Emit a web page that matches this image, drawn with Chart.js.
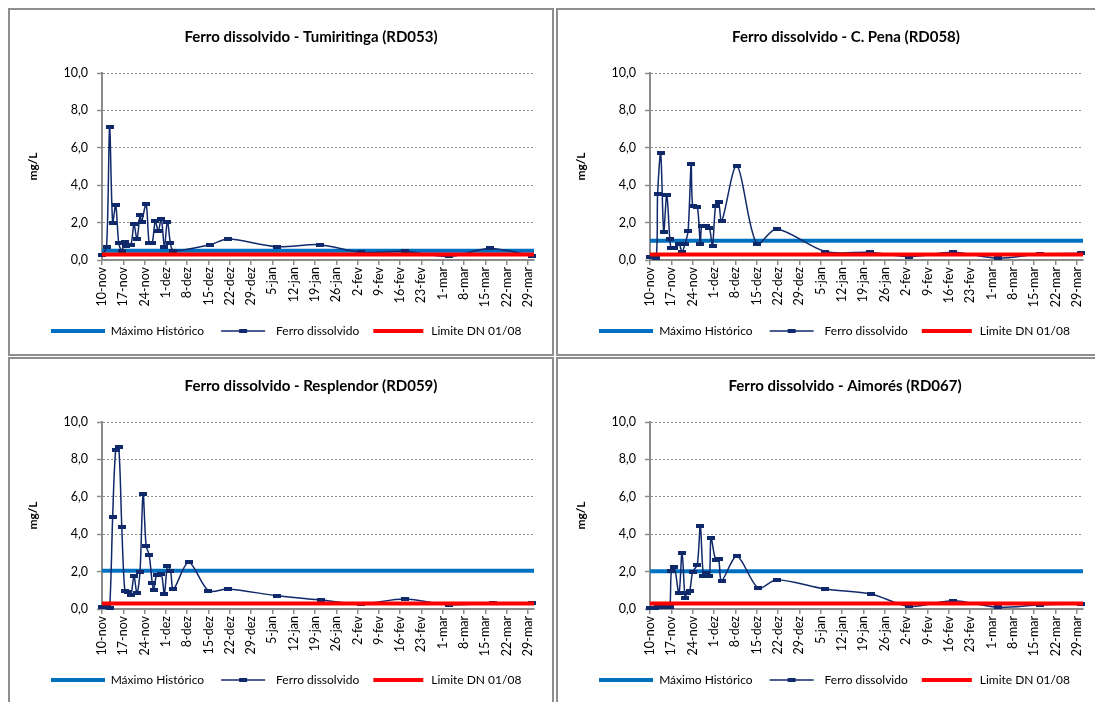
<!DOCTYPE html>
<html><head><meta charset="utf-8">
<script src="https://cdn.jsdelivr.net/npm/chart.js@4.4.0/dist/chart.umd.min.js"></script>
<style>
html,body{margin:0;padding:0;background:#fff;width:1095px;height:702px;overflow:hidden;position:relative}
.panel{position:absolute;border:2px solid #8e8e8e;box-sizing:border-box;background:#fff}
canvas{position:absolute}
</style></head><body>
<div class="panel" style="left:8px;top:8px;width:546px;height:348px"></div>
<div class="panel" style="left:556px;top:8px;width:560px;height:348px"></div>
<div class="panel" style="left:8px;top:357px;width:546px;height:360px"></div>
<div class="panel" style="left:556px;top:357px;width:560px;height:360px"></div>
<canvas id="c1" width="541" height="343" style="left:10px;top:10px"></canvas>
<canvas id="c2" width="537" height="343" style="left:558px;top:10px"></canvas>
<canvas id="c3" width="541" height="343" style="left:10px;top:359px"></canvas>
<canvas id="c4" width="537" height="343" style="left:558px;top:359px"></canvas>
<script>
// ---------- data ----------
const tickLabels = ['10-nov','17-nov','24-nov','1-dez','8-dez','15-dez','22-dez','29-dez','5-jan','12-jan','19-jan','26-jan','2-fev','9-fev','16-fev','23-fev','1-mar','8-mar','15-mar','22-mar','29-mar'];
const tickDays = [0,7,14,21,28,35,42,49,56,63,70,77,84,91,98,105,112,119,126,133,140]; // days after 10-nov
const axisDays = [0, 142];
const seriesNames = ['Máximo Histórico','Ferro dissolvido','Limite DN 01/08'];
const stationTitles = ['Ferro dissolvido - Tumiritinga (RD053)','Ferro dissolvido - C. Pena (RD058)','Ferro dissolvido - Resplendor (RD059)','Ferro dissolvido - Aimorés (RD067)'];
const maximoHistorico = [0.5, 1.03, 2.05, 2.02];
const limiteDN = [0.3, 0.3, 0.3, 0.3];

const tumiritingaDays = [0,1.5,2.5,3.5,4.5,5.5,6.5,7.5,8,9.5,10.5,11.5,12.5,13,14.5,15.5,16.5,17.5,18.5,19.5,20.5,21.5,22.5,23.5,35.5,41.5,57.5,71.5,85,99.5,114,127.5,141.5];
const tumiritingaFe   = [0.25,0.7,7.1,2.0,2.95,0.9,0.5,0.98,0.77,0.82,1.9,1.12,2.38,2.05,3.0,0.9,0.9,2.07,1.57,2.2,0.71,2.05,0.9,0.5,0.82,1.12,0.71,0.82,0.41,0.46,0.19,0.62,0.23];

const penaDays = [0,2,2.5,3.5,4.5,5.5,6.5,7,8,9.5,10.5,11.5,12.5,13.5,14,15.5,16.5,17,18.5,19.5,20.5,21.5,22.5,23.5,28.5,35,41.5,57.5,72,85,99.5,114,128,141.5];
const penaFe   = [0.14,0.1,3.54,5.71,1.52,3.5,1.12,0.62,0.64,0.86,0.45,0.86,1.55,5.14,2.91,2.86,0.86,1.84,1.8,1.71,0.77,2.91,3.09,2.07,5.05,0.86,1.66,0.45,0.41,0.18,0.41,0.1,0.32,0.35];

const resplendorDays = [0,1.5,2.5,3.5,4.5,5.5,6.5,7.5,8.5,9.5,10.5,11.5,12.5,13.5,14.5,15.5,16.5,17,18,19.5,20.5,21.5,22.5,23.5,28.5,35,41.5,57.5,72,85,99.5,114,128.5,141.5];
const resplendorFe   = [0.12,0.09,0.05,4.91,8.52,8.66,4.41,0.98,0.93,0.75,1.75,0.84,2.0,6.16,3.39,2.89,1.41,1.04,1.84,1.87,0.8,2.3,2.05,1.07,2.5,0.98,1.07,0.71,0.48,0.27,0.53,0.23,0.3,0.3];

const aimoresDays = [0,1.5,2.5,4,5.5,6.5,7,8,9.5,10.5,11.5,12,13,14,15.5,16.5,17.5,18.5,19.5,20,21.5,22.5,23.5,28.5,35.5,41.5,57.5,72.5,85,99.5,114,128,141.5];
const aimoresFe   = [0.05,0.05,0.09,0.09,0.09,0.09,2.02,2.23,0.84,3.0,0.57,0.84,0.95,2.0,2.36,4.46,1.79,1.91,1.75,3.8,2.63,2.68,1.52,2.82,1.12,1.57,1.07,0.8,0.14,0.44,0.09,0.23,0.27];

// ---------- styles ----------
const BLUE = '#0070C0', RED = '#FF0000', NAVY = '#10296A', GRID = '#8c8c8c';
const FONT = 'Lato';
Chart.defaults.font.family = FONT;
Chart.defaults.font.size = 12;
Chart.defaults.color = '#000';

function makeMarker() {
  const c = document.createElement('canvas'); c.width = 8; c.height = 4;
  const g = c.getContext('2d'); g.fillStyle = NAVY; g.fillRect(0, 0, 8, 4); return c;
}
const markerImg = makeMarker();
function lineSymbol(color, lw, len, marker) {
  const c = document.createElement('canvas'); c.width = 54; c.height = 8;
  const g = c.getContext('2d'); g.strokeStyle = color; g.lineWidth = lw;
  g.beginPath(); g.moveTo((54 - len) / 2, 4); g.lineTo((54 + len) / 2, 4); g.stroke();
  if (marker) g.drawImage(markerImg, 23, 2);
  return c;
}
const legendSymbols = [lineSymbol(BLUE, 4, 54, false), lineSymbol(NAVY, 1.5, 44, true), lineSymbol(RED, 4, 50, false)];

const panelTitle = {
  id: 'panelTitle',
  afterDraw(chart, args, opts) {
    const ctx = chart.ctx; ctx.save();
    ctx.font = 'bold 15px ' + FONT; ctx.fillStyle = '#000';
    ctx.textAlign = 'center'; ctx.textBaseline = 'middle';
    ctx.fillText(opts.text, opts.x, opts.y); ctx.restore();
  }
};

const panels = [
  {id: 'c1', t: 0, titleX: 301, days: tumiritingaDays, fe: tumiritingaFe, padR: 17},
  {id: 'c2', t: 1, titleX: 288, days: penaDays, fe: penaFe, padR: 12},
  {id: 'c3', t: 2, titleX: 301, days: resplendorDays, fe: resplendorFe, padR: 17},
  {id: 'c4', t: 3, titleX: 287, days: aimoresDays, fe: aimoresFe, padR: 12}
];

panels.forEach(p => {
  const hline = v => axisDays.map(d => ({x: d, y: v}));
  new Chart(document.getElementById(p.id), {
    type: 'line',
    data: {
      datasets: [
        {label: seriesNames[0], data: hline(maximoHistorico[p.t]), borderColor: BLUE, backgroundColor: BLUE, borderWidth: 4, pointRadius: 0, pointStyle: legendSymbols[0], order: 3},
        {label: seriesNames[1], data: p.days.map((d, i) => ({x: d, y: p.fe[i]})), borderColor: NAVY, backgroundColor: NAVY, borderWidth: 1.5, pointRadius: 3, pointStyle: markerImg, tension: 0.3, clip: false, order: 2},
        {label: seriesNames[2], data: hline(limiteDN[p.t]), borderColor: RED, backgroundColor: RED, borderWidth: 4, pointRadius: 0, pointStyle: legendSymbols[2], order: 1}
      ]
    },
    options: {
      responsive: false, animation: false, events: [],
      layout: {padding: {left: 28, right: p.padR, top: 63, bottom: 6}},
      scales: {
        x: {
          type: 'linear', min: axisDays[0], max: axisDays[1],
          afterBuildTicks: s => { s.ticks = tickDays.map(v => ({value: v})); },
          afterFit: s => { s.height = 53; },
          ticks: {autoSkip: false, minRotation: 90, maxRotation: 90, padding: 2, font: {size: 12.5},
                  callback: (v, i) => tickLabels[i]},
          grid: {drawOnChartArea: false, drawTicks: true, tickLength: 5, color: GRID, lineWidth: 1.5},
          border: {color: GRID, width: 2}
        },
        y: {
          min: 0, max: 10,
          afterFit: s => { s.width = 64; },
          ticks: {stepSize: 2, padding: 9, font: {size: 12.5}, callback: v => v.toFixed(1).replace('.', ',')},
          grid: {color: c => c.tick && c.tick.value === 0 ? 'rgba(0,0,0,0)' : GRID, tickColor: GRID, lineWidth: 1, tickLength: 5, tickWidth: 1.5},
          border: {color: GRID, width: 2, dash: [2, 2]},
          title: {display: true, text: 'mg/L', font: {size: 12, weight: 'bold'}, padding: {top: -12, bottom: 0}}
        }
      },
      plugins: {
        panelTitle: {text: stationTitles[p.t], x: p.titleX, y: 27},
        title: {display: false},
        tooltip: {enabled: false},
        legend: {
          position: 'bottom',
          labels: {
            usePointStyle: true, pointStyleWidth: 54, padding: 12, font: {size: 12},
            generateLabels: chart => {
              const items = Chart.defaults.plugins.legend.labels.generateLabels(chart);
              items.forEach(it => { it.pointStyle = legendSymbols[it.datasetIndex]; });
              return items;
            },
            sort: (a, b) => a.datasetIndex - b.datasetIndex
          }
        }
      }
    },
    plugins: [panelTitle]
  });
});
</script>
</body></html>
